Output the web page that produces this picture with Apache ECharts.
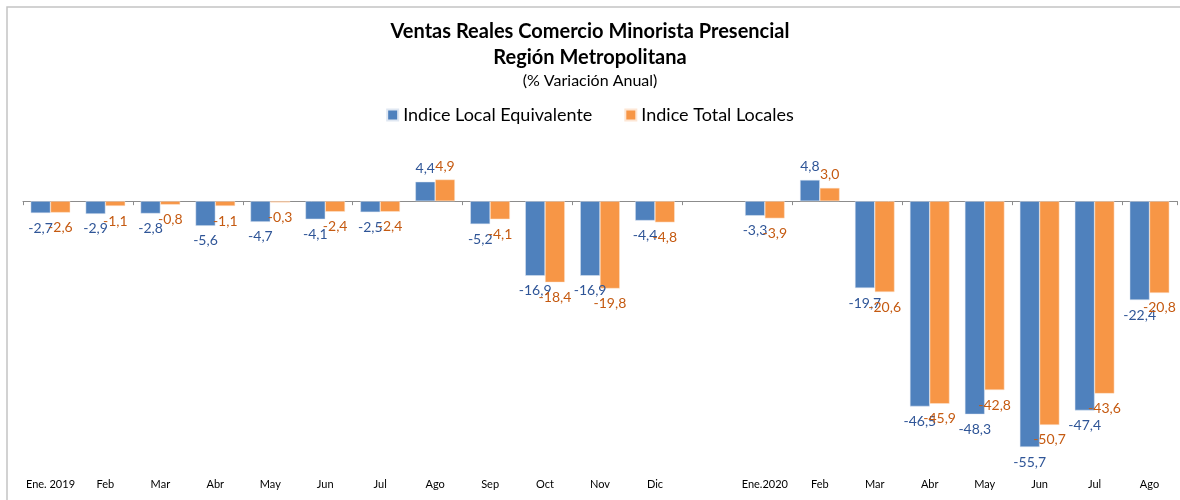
<!DOCTYPE html>
<html>
<head>
<meta charset="utf-8">
<style>
  *{margin: 0; padding: 0;}
  html,body{width: 1180px; height: 500px; background: #fff;}
  #chart{width: 1180px; height: 500px;}
</style>
<script src="https://cdn.jsdelivr.net/npm/echarts@6/dist/echarts.min.js"></script>
</head>
<body>
<div id="chart"></div>
<script>
var months = ['Ene. 2019', 'Feb', 'Mar', 'Abr', 'May', 'Jun', 'Jul', 'Ago', 'Sep', 'Oct', 'Nov', 'Dic', '',
  'Ene.2020', 'Feb', 'Mar', 'Abr', 'May', 'Jun', 'Jul', 'Ago']
var localEquiv = [-2.7, -2.9, -2.8, -5.6, -4.7, -4.1, -2.5, 4.4, -5.2, -16.9, -16.9, -4.4, null,
  -3.3, 4.8, -19.7, -46.5, -48.3, -55.7, -47.4, -22.4]
var totalLocales = [-2.6, -1.1, -0.8, -1.1, -0.3, -2.4, -2.4, 4.9, -4.1, -18.4, -19.8, -4.8, null,
  -3.9, 3.0, -20.6, -45.9, -42.8, -50.7, -43.6, -20.8]
var seriesNames = ['Indice Local Equivalente', 'Indice Total Locales']

var font = 'Lato, "Open Sans", sans-serif'

// etiqueta con coma decimal, abajo si es negativo
function makeData(values, color) {
  return values.map(function(v) {
    if (v === null) return null
    return {
      value: v,
      label: {
        show: true,
        position: v < 0 ? 'bottom' : 'top',
        distance: v < 0 ? 8 : 6,
        color: color,
        fontFamily: font,
        fontSize: 14,
        formatter: function(p) {
          return p.value.toFixed(1).replace('.', ',')
        }
      }
    }
  })
}

var chart = echarts.init(document.getElementById('chart'))
var options = {
  animation: false,
  textStyle: { fontFamily: font },
  title: [
    {
      text: 'Ventas Reales Comercio Minorista Presencial\nRegión Metropolitana',
      left: 'center',
      top: 14,
      textStyle: { fontFamily: font, fontSize: 20, fontWeight: 'bold', color: '#000', lineHeight: 26 }
    },
    {
      text: '(% Variación Anual)',
      left: 'center',
      top: 68,
      textStyle: { fontFamily: font, fontSize: 16, fontWeight: 'normal', color: '#000' }
    }
  ],
  legend: {
    data: seriesNames,
    top: 101,
    left: 'center',
    icon: 'rect',
    itemWidth: 11,
    itemHeight: 11,
    itemGap: 32,
    textStyle: { fontFamily: font, fontSize: 18, color: '#000' }
  },
  graphic: [
    {
      type: 'rect',
      shape: { x: 7, y: 7, width: 1200, height: 520 },
      style: { fill: 'none', stroke: '#c4c4c4', lineWidth: 1.5 },
      silent: true
    }
  ],
  grid: {
    left: 23,
    right: 3,
    top: 157,
    bottom: 34
  },
  xAxis: [
    {
      type: 'category',
      data: months,
      axisLine: { onZero: true, lineStyle: { color: '#8c8c8c', width: 1 } },
      axisTick: { show: true, length: 4, lineStyle: { color: '#8c8c8c' } },
      axisLabel: { show: false }
    },
    {
      type: 'category',
      data: months,
      position: 'bottom',
      axisLine: { show: false, onZero: false },
      axisTick: { show: false },
      axisLabel: { interval: 0, fontFamily: font, fontSize: 11, color: '#000', margin: 13 }
    }
  ],
  yAxis: {
    type: 'value',
    min: -60,
    max: 10,
    show: false,
    splitLine: { show: false }
  },
  series: [
    {
      name: seriesNames[0],
      type: 'bar',
      barGap: '0%',
      barCategoryGap: '28%',
      itemStyle: { color: '#4f81bd', borderColor: '#dfe7f2', borderWidth: 0.5 },
      data: makeData(localEquiv, '#2f5597')
    },
    {
      name: seriesNames[1],
      type: 'bar',
      barGap: '0%',
      barCategoryGap: '28%',
      itemStyle: { color: '#f79646', borderColor: '#fde6d4', borderWidth: 0.5 },
      data: makeData(totalLocales, '#c55a11')
    }
  ]
}
chart.setOption(options)
window.addEventListener('resize', () => {
  chart.resize()
}, false)
</script>
</body>
</html>
